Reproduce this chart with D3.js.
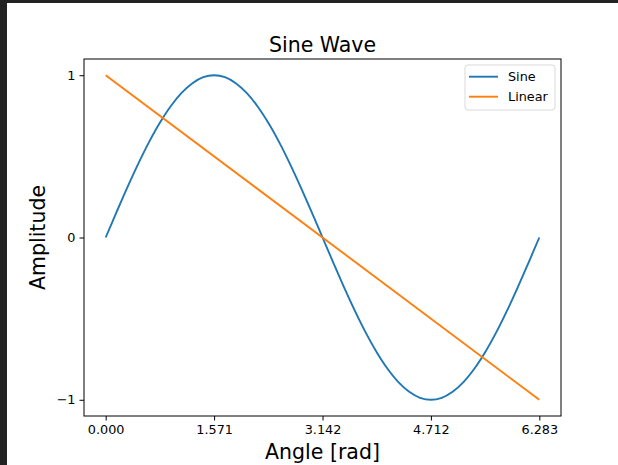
<!DOCTYPE html>
<html>
<head>
<meta charset="utf-8">
<script src="https://cdn.jsdelivr.net/npm/d3@7"></script>
<style>
  html, body { margin: 0; padding: 0; background: #ffffff; }
  svg { display: block; font-family: "DejaVu Sans", sans-serif; }
</style>
</head>
<body>
<svg id="chart" width="618" height="465"></svg>
<script>
// Data
const angles = [0, 0.157, 0.314, 0.471, 0.628, 0.785, 0.942, 1.100, 1.257, 1.414, 1.571,
  1.728, 1.885, 2.042, 2.199, 2.356, 2.513, 2.670, 2.827, 2.985, 3.142,
  3.299, 3.456, 3.613, 3.770, 3.927, 4.084, 4.241, 4.398, 4.555, 4.712,
  4.869, 5.027, 5.184, 5.341, 5.498, 5.655, 5.812, 5.969, 6.126, 6.283];
const sineValues = [0, 0.156, 0.309, 0.454, 0.588, 0.707, 0.809, 0.891, 0.951, 0.988, 1,
  0.988, 0.951, 0.891, 0.809, 0.707, 0.588, 0.454, 0.309, 0.156, 0,
  -0.156, -0.309, -0.454, -0.588, -0.707, -0.809, -0.891, -0.951, -0.988, -1,
  -0.988, -0.951, -0.891, -0.809, -0.707, -0.588, -0.454, -0.309, -0.156, 0];
const linearAngles = [0, 6.283];
const linearValues = [1, -1];
const xTicks = [0, 1.571, 3.142, 4.712, 6.283];
const xTickLabels = ["0.000", "1.571", "3.142", "4.712", "6.283"];
const yTicks = [-1, 0, 1];
const yTickLabels = ["\u22121", "0", "1"];
const seriesNames = ["Sine", "Linear"];
const seriesColors = ["#1f77b4", "#ff7f0e"];

const svg = d3.select("#chart");
const W = 618, H = 465;

// dark frame edges
svg.append("rect").attr("x", 0).attr("y", 0).attr("width", W).attr("height", H).attr("fill", "#ffffff");
svg.append("rect").attr("x", 0).attr("y", 0).attr("width", W).attr("height", 3).attr("fill", "#222222");
svg.append("rect").attr("x", 0).attr("y", 0).attr("width", 7).attr("height", H).attr("fill", "#222222");

const plot = { left: 84, right: 561, top: 59, bottom: 416 };
const xPad = (6.283) * 0.05;
const x = d3.scaleLinear().domain([0 - xPad, 6.283 + xPad]).range([plot.left, plot.right]);
const y = d3.scaleLinear().domain([-1.1, 1.1]).range([plot.bottom, plot.top]);

// lines
const line = d3.line().x(d => x(d[0])).y(d => y(d[1])).curve(d3.curveCatmullRom);
const sineData = angles.map((a, i) => [a, sineValues[i]]);
const linData = linearAngles.map((a, i) => [a, linearValues[i]]);
const g = svg.append("g");
g.append("path").datum(sineData).attr("d", line).attr("fill", "none")
  .attr("stroke", seriesColors[0]).attr("stroke-width", 1.9);
g.append("path").datum(linData).attr("d", d3.line().x(d => x(d[0])).y(d => y(d[1]))).attr("fill", "none")
  .attr("stroke", seriesColors[1]).attr("stroke-width", 1.9);

// frame
svg.append("rect").attr("x", plot.left).attr("y", plot.top)
  .attr("width", plot.right - plot.left).attr("height", plot.bottom - plot.top)
  .attr("fill", "none").attr("stroke", "#000").attr("stroke-width", 1);

// axes
const xAxis = d3.axisBottom(x).tickValues(xTicks).tickFormat((d, i) => xTickLabels[i])
  .tickSize(4.5).tickPadding(4);
const gx = svg.append("g").attr("transform", `translate(0,${plot.bottom})`).call(xAxis);
gx.select(".domain").remove();
gx.selectAll("text").attr("font-size", 12.8).attr("fill", "#000").attr("font-family", "DejaVu Sans");

const yAxis = d3.axisLeft(y).tickValues(yTicks).tickFormat((d, i) => yTickLabels[i])
  .tickSize(4.5).tickPadding(4);
const gy = svg.append("g").attr("transform", `translate(${plot.left},0)`).call(yAxis);
gy.select(".domain").remove();
gy.selectAll("text").attr("font-size", 12.8).attr("fill", "#000").attr("font-family", "DejaVu Sans");

// title & labels
svg.append("text").attr("x", (plot.left + plot.right) / 2).attr("y", 52)
  .attr("text-anchor", "middle").attr("font-size", 20.5).attr("fill", "#000").text("Sine Wave");
svg.append("text").attr("x", (plot.left + plot.right) / 2).attr("y", 459)
  .attr("text-anchor", "middle").attr("font-size", 20.5).attr("fill", "#000").text("Angle [rad]");
svg.append("text").attr("transform", `translate(45,${(plot.top + plot.bottom) / 2}) rotate(-90)`)
  .attr("text-anchor", "middle").attr("font-size", 20.5).attr("fill", "#000").text("Amplitude");

// legend
const lg = svg.append("g");
lg.append("rect").attr("x", 465).attr("y", 65).attr("width", 90).attr("height", 45).attr("rx", 3)
  .attr("fill", "#fff").attr("fill-opacity", 0.8).attr("stroke", "#d9d9d9").attr("stroke-width", 1);
seriesNames.forEach((n, i) => {
  const yy = 76.7 + i * 20;
  lg.append("line").attr("x1", 469).attr("x2", 498).attr("y1", yy).attr("y2", yy)
    .attr("stroke", seriesColors[i]).attr("stroke-width", 1.9);
  lg.append("text").attr("x", 508).attr("y", yy + 4.5).attr("font-size", 12.8).attr("fill", "#000").text(n);
});
</script>
</body>
</html>
